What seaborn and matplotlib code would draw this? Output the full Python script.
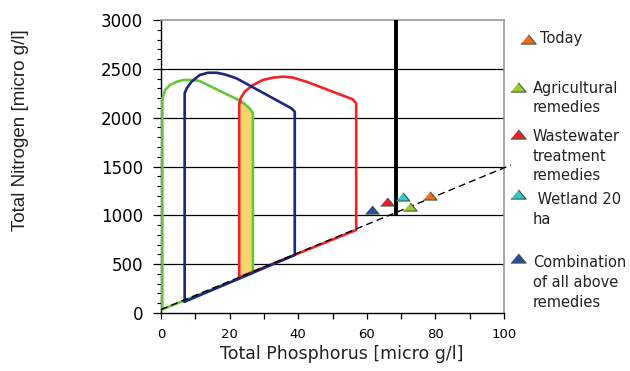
import matplotlib
matplotlib.use("Agg")
import matplotlib.pyplot as plt
import seaborn as sns
import pandas as pd
from matplotlib.ticker import FixedLocator, MultipleLocator

# ---------------- data ----------------
green_x = [0.4, 0.4, 1.2, 2.6, 4.6, 6.5, 9.4, 11.3, 23.0, 24.4, 25.8, 26.8, 26.8, 0.4]
green_y = [38, 2198, 2283, 2334, 2368, 2386, 2386, 2375, 2174, 2140, 2095, 2046, 410, 38]

blue_x = [6.9, 6.9, 7.5, 8.9, 11.3, 13.7, 16.2, 18.6, 22.0, 38.0, 39.0, 39.0, 6.9]
blue_y = [116, 2250, 2301, 2368, 2437, 2460, 2460, 2443, 2403, 2096, 2061, 594, 116]

red_x = [22.8, 22.8, 23.2, 24.4, 26.8, 29.7, 32.6, 35.6, 38.5, 42.4, 55.9, 56.9, 56.9, 22.8]
red_y = [365, 2130, 2198, 2266, 2334, 2386, 2410, 2420, 2410, 2368, 2188, 2147, 850, 365]

band_x = [22.8, 22.8, 24.4, 25.8, 26.8, 26.8]
band_y = [365, 2165, 2140, 2095, 2046, 410]

trend_x = [0, 102]
trend_y = [35, 1515]

limit_x = [68.4, 68.4]
limit_y = [1000, 3000]

scenarios = ["Today", "Agricultural remedies", "Wastewater treatment remedies",
             "Wetland 20 ha", "Combination of all above remedies"]
scen_p = [78.5, 72.7, 66.0, 70.6, 61.6]
scen_n = [1198, 1085, 1137, 1188, 1055]
scen_colors = ["#F26B1D", "#9ACD32", "#E8202A", "#33C6C6", "#2B4C9B"]

legend_lines = [["Today"],
                ["Agricultural", "remedies"],
                ["Wastewater", "treatment", "remedies"],
                [" Wetland 20", "ha"],
                ["Combination", "of all above", "remedies"]]

x_ticks = [0, 10, 20, 30, 40, 50, 60, 70, 80, 90, 100]
x_tick_labels = ["0", "", "20", "", "40", "", "60", "", "80", "", "100"]
y_ticks = [0, 500, 1000, 1500, 2000, 2500, 3000]

# ---------------- style ----------------
sns.set_style("white")
plt.rcParams["font.family"] = ["DejaVu Sans"]

W, H = 630, 371
fig = plt.figure(figsize=(W / 100, H / 100), dpi=100)
ax = fig.add_axes([161 / W, (H - 313) / H, 343 / W, 293 / H])

# grid lines
for yv in y_ticks[1:-1]:
    ax.axhline(yv, color="black", lw=0.9, zorder=1)

tri = [(-1, -0.6), (1, -0.6), (0, 0.6)]

# yellow band
ax.fill(band_x, band_y, facecolor="#F7D56E", edgecolor="black", lw=0.9, zorder=2)

# curves
sns.lineplot(x=green_x, y=green_y, sort=False, estimator=None, color="#66C83A",
             lw=1.9, ax=ax, zorder=3)
sns.lineplot(x=red_x, y=red_y, sort=False, estimator=None, color="#F2242A",
             lw=1.9, ax=ax, zorder=3)
sns.lineplot(x=blue_x, y=blue_y, sort=False, estimator=None, color="#1E2878",
             lw=1.9, ax=ax, zorder=4)
for l in ax.lines:
    l.set_solid_joinstyle("round")

# trend dashed line and limit line
ax.plot(trend_x, trend_y, color="black", lw=1.0, ls=(0, (5, 3)), zorder=5, clip_on=False)
ax.plot(limit_x, limit_y, color="black", lw=2.8, zorder=5, solid_capstyle="butt")

# scenario points
df = pd.DataFrame({"P": scen_p, "N": scen_n, "scenario": scenarios})
sns.scatterplot(data=df, x="P", y="N", hue="scenario", palette=scen_colors,
                marker=tri, s=95, edgecolor="#3F5A3F", linewidth=0.8,
                legend=False, ax=ax, zorder=6)

# axes
ax.set_xlim(0, 100)
ax.set_ylim(0, 3000)
ax.xaxis.set_major_locator(FixedLocator(x_ticks))
ax.set_xticklabels(x_tick_labels)
ax.yaxis.set_major_locator(FixedLocator(y_ticks))
ax.yaxis.set_minor_locator(MultipleLocator(100))
ax.tick_params(axis="y", which="major", direction="out", length=6, width=0.9,
               color="black", pad=7, labelsize=12, labelcolor="black", left=True)
ax.tick_params(axis="y", which="minor", direction="out", length=3, width=0.8,
               color="black", left=True)
ax.tick_params(axis="x", which="major", direction="out", length=4, width=0.9,
               color="black", pad=7, labelsize=9.5, labelcolor="black", bottom=True)

for s in ["left", "bottom"]:
    ax.spines[s].set_color("black")
    ax.spines[s].set_linewidth(1.0)
for s in ["top", "right"]:
    ax.spines[s].set_color("#9A9A9A")
    ax.spines[s].set_linewidth(1.2)

ax.set_xlabel("Total Phosphorus [micro g/l]", fontsize=12.5, color="#222222")
ax.set_ylabel("Total Nitrogen [micro g/l]", fontsize=13.5, color="#222222",
              family=["Liberation Sans", "DejaVu Sans"])
ax.xaxis.set_label_coords((342 - 161) / 343, -(345 - 313) / 293)
ax.yaxis.set_label_coords((29 - 161) / 343, (313 - 130) / 293)

# manual legend (pixel coordinates)
lax = fig.add_axes([0, 0, 1, 1])
lax.set_xlim(0, W)
lax.set_ylim(H, 0)
lax.axis("off")
mk_pos = [(528, 39), (518, 87), (518, 134), (518, 194), (518, 258)]
text_x = [540, 533, 533, 533, 533]
text_base = [[43], [93, 112], [141, 161, 180], [204, 224], [267, 287, 307]]
for (mx, my), col, tx, lines, bases in zip(mk_pos, scen_colors, text_x, legend_lines, text_base):
    lax.plot([mx], [my], marker=tri, ms=11, color=col, mec="#3F5A3F", mew=0.8, ls="none")
    for ln, b in zip(lines, bases):
        lax.text(tx, b, ln, fontsize=10.5, va="baseline", ha="left", color="#222222")

fig.savefig("out.png", dpi=100)
